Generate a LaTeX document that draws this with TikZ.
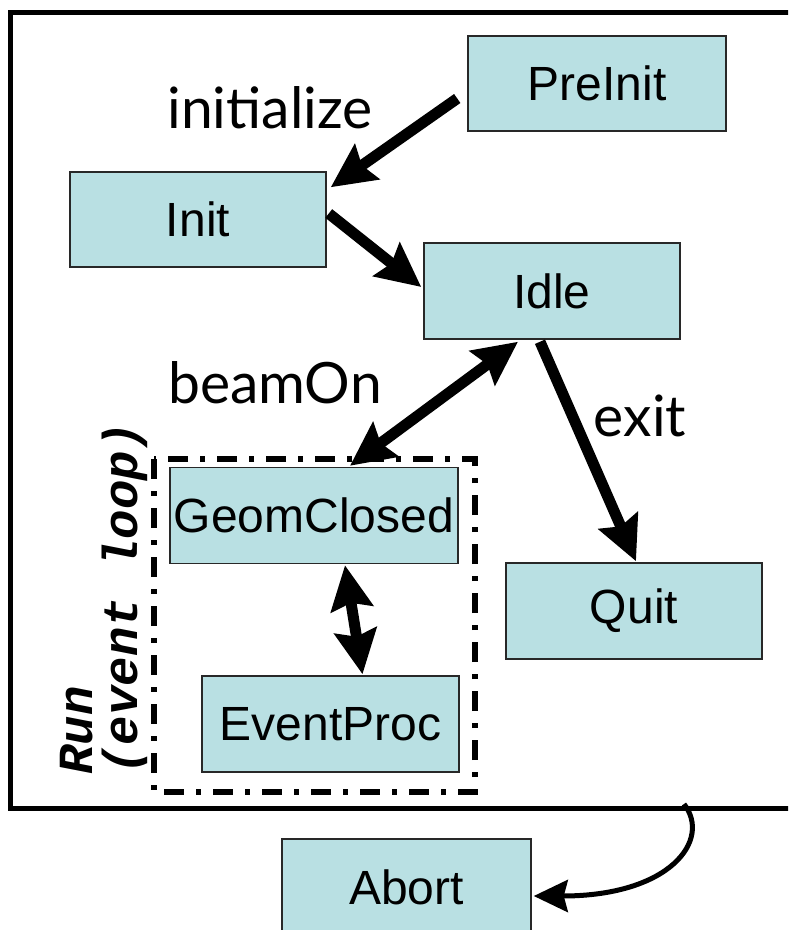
\documentclass[tikz,border=0pt]{standalone}
\usepackage{fontspec}
\setmainfont{Liberation Sans}
\newfontfamily\handfont{Lato}
\newfontfamily\monofont{Liberation Mono}
\usetikzlibrary{arrows.meta,calc}
\definecolor{boxfill}{RGB}{185,224,227}
\definecolor{boxline}{RGB}{40,40,40}
\tikzset{
  statebox/.style={draw=boxline,line width=1.5pt,fill=boxfill,inner sep=0pt,
    font=\fontsize{48}{56}\selectfont},
  bigarrow/.style={line width=11pt,-{Stealth[length=44pt,width=42pt,inset=6pt]}},
  bigdouble/.style={line width=11pt,{Stealth[length=44pt,width=42pt,inset=6pt]}-{Stealth[length=44pt,width=42pt,inset=6pt]}},
  handlabel/.style={font=\handfont\fontsize{57}{64}\selectfont,inner sep=0pt},
}
\begin{document}
\begin{tikzpicture}[x=1pt,y=-1pt]
\useasboundingbox (0,0) rectangle (788,930);
\clip (0,0) rectangle (788,930);
\fill[white] (0,0) rectangle (788,930);
% outer frame
\draw[line width=5pt] (800,12) -- (10,12) -- (10,808) -- (800,808);
% run region
\draw[line width=5.5pt,dash pattern=on 20pt off 12pt on 5pt off 12pt] (154,459) rectangle (475,792);
% states
\node[statebox,minimum width=258pt,minimum height=95pt] (PreInit) at (597,83.5) {PreInit};
\node[statebox,minimum width=256pt,minimum height=95pt] (Init) at (198,219.5) {Init};
\node[statebox,minimum width=256pt,minimum height=96pt] (Idle) at (552,291) {Idle};
\node[statebox,minimum width=288pt,minimum height=96pt] (GeomClosed) at (314,515.5) {GeomClosed};
\node[statebox,minimum width=257pt,minimum height=96pt] (EventProc) at (330.5,724) {EventProc};
\node[statebox,minimum width=256pt,minimum height=96pt] (Quit) at (634,611) {Quit};
\node[statebox,minimum width=249pt,minimum height=96pt] (Abort) at (406.5,887) {Abort};
% labels
\node[handlabel] (linit) at (270,108) {initialize};
\node[handlabel] (lbeam) at (275,383) {beamOn};
\node[handlabel] (lexit) at (640,416) {exit};
\node[rotate=90,align=left,inner sep=0pt,font=\monofont\bfseries\itshape\fontsize{49}{45}\selectfont] (lrun) at (104,598) {Run\\(event loop)};
% transitions
\draw[bigarrow] ($(PreInit.west)+(-10,15)$) -- ($(Init.north east)+(4,16)$);
\draw[bigarrow] ($(Init.east)+(2,-6)$) -- ($(Idle.west)+(-2,-4)$);
\draw[bigdouble] ($(Idle.south)+(-34,2)$) -- ($(GeomClosed.north)+(36,-1)$);
\draw[bigarrow] ($(Idle.south)+(-12,2)$) -- ($(Quit.north)+(2,-1)$);
\draw[bigdouble] ($(GeomClosed.south)+(31,1)$) -- ($(EventProc.north)+(32,-1)$);
\coordinate (abortstart) at (684,804);
\draw[line width=5pt,-{Stealth[length=34pt,width=32pt,inset=4pt]}] (abortstart) .. controls (712,840) and (670,896) .. ($(Abort.east)+(2,9)$);
\end{tikzpicture}
\end{document}
